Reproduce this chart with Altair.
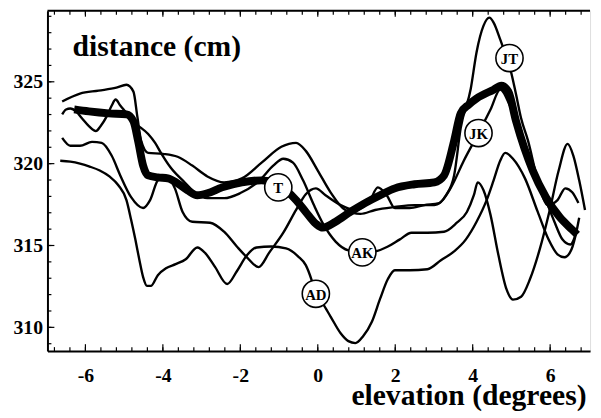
import altair as alt
import pandas as pd

# ---- data ----
JT_x = [-6.60,-6.14,-5.66,-5.20,-4.94,-4.76,-4.66,-4.56,-4.38,-4.00,-3.62,-3.24,-2.85,-2.42,-1.96,-1.45,-0.94,-0.56,-0.31,0.00,0.33,0.71,1.10,1.48,1.99,2.50,3.01,3.31,3.52,3.69,3.95,4.10,4.28,4.43,4.54,4.71,4.87,4.99,5.12,5.25,5.43,5.68,5.94,6.19,6.39,6.57,6.73]
JT_y = [323.80,324.28,324.46,324.64,324.82,324.40,322.89,321.39,320.66,320.60,320.42,319.88,319.22,318.86,319.10,320.06,321.03,321.27,320.78,319.58,318.25,317.17,316.93,317.17,317.35,317.47,317.47,318.07,319.28,322.17,324.58,326.81,328.43,328.92,328.62,327.59,326.51,325.60,324.22,322.77,321.39,318.98,317.47,317.77,318.49,318.25,317.59]

JK_x = [-6.60,-6.39,-6.14,-5.83,-5.58,-5.32,-5.10,-4.82,-4.51,-4.33,-4.13,-3.92,-3.69,-3.49,-3.24,-2.78,-2.42,-2.09,-1.83,-1.53,-1.25,-0.89,-0.56,-0.31,-0.05,0.20,0.59,0.97,1.35,1.55,1.78,1.99,2.37,2.75,3.13,3.44,3.77,4.15,4.46,4.71,4.97,5.30,5.61,5.89,6.11,6.32,6.52,6.68]
JK_y = [321.57,321.09,321.09,321.33,321.27,320.48,319.28,317.95,317.29,317.77,318.98,319.22,318.49,317.05,316.45,316.39,315.84,314.94,314.28,313.68,314.58,315.78,317.17,318.13,318.49,318.07,317.47,317.17,317.77,318.55,318.07,317.29,317.29,317.47,317.59,318.55,320.18,321.87,323.31,324.52,323.49,321.39,319.46,317.77,316.45,315.36,315.06,315.84]

AK_x = [-6.60,-6.50,-6.39,-6.24,-6.09,-5.91,-5.73,-5.61,-5.45,-5.32,-5.22,-5.10,-4.97,-4.71,-4.38,-4.20,-4.05,-3.80,-3.44,-3.18,-2.85,-2.42,-2.01,-1.50,-1.15,-0.89,-0.64,-0.38,-0.10,0.15,0.46,0.79,1.15,1.48,1.81,2.11,2.42,2.83,3.26,3.59,3.85,4.03,4.13,4.28,4.46,4.66,4.87,5.04,5.25,5.48,5.73,5.99,6.22,6.45,6.60,6.75,6.90]
AK_y = [323.01,323.31,323.37,323.19,322.77,322.29,321.99,322.29,322.89,323.55,323.92,323.55,323.19,322.47,321.81,321.27,320.66,319.76,318.86,318.25,317.89,317.89,318.19,318.98,319.88,320.30,320.06,318.98,317.47,316.27,315.24,314.70,314.58,314.64,314.94,315.36,315.78,315.78,315.84,316.39,317.05,318.07,318.86,318.37,316.87,314.46,312.35,311.69,311.87,312.95,314.76,317.17,319.58,321.21,320.48,318.98,317.17]

AD_x = [-6.65,-6.39,-6.14,-5.89,-5.63,-5.38,-5.15,-4.94,-4.82,-4.71,-4.61,-4.51,-4.41,-4.31,-4.13,-3.92,-3.67,-3.41,-3.11,-2.90,-2.65,-2.34,-2.09,-1.83,-1.58,-1.20,-0.82,-0.51,-0.31,-0.15,-0.05,0.13,0.33,0.59,0.79,0.97,1.17,1.40,1.61,1.81,1.99,2.37,2.83,3.18,3.52,3.82,4.10,4.36,4.54,4.71,4.84,5.04,5.35,5.68,5.96,6.19,6.37,6.55,6.70,6.75]
AD_y = [320.18,320.12,320.00,319.82,319.58,319.22,318.68,317.77,316.57,315.36,314.16,313.07,312.53,312.53,313.19,313.61,313.86,314.16,314.88,314.52,313.68,312.65,313.43,314.40,314.88,314.94,314.82,314.34,313.80,312.83,312.05,311.45,310.66,309.64,309.16,309.04,309.46,310.36,311.75,312.95,313.49,313.49,313.55,314.10,314.64,315.36,316.45,317.77,318.98,320.18,320.66,320.30,319.10,317.05,315.36,314.46,314.28,314.76,316.09,316.69]

T_x = [-6.29,-5.91,-5.40,-4.94,-4.76,-4.64,-4.51,-4.38,-4.13,-3.87,-3.62,-3.36,-3.11,-2.85,-2.47,-1.96,-1.45,-1.07,-0.82,-0.56,-0.31,-0.05,0.13,0.46,0.84,1.22,1.61,1.99,2.50,3.01,3.26,3.52,3.69,3.90,4.10,4.54,4.74,4.92,5.12,5.55,5.89,6.24,6.57,6.70]
T_y = [323.31,323.19,323.07,323.01,322.59,321.39,319.88,319.28,319.16,319.10,318.80,318.37,318.07,318.19,318.55,318.86,318.98,318.80,318.37,317.77,317.05,316.33,316.09,316.45,317.05,317.59,318.07,318.49,318.74,318.86,319.28,321.39,323.07,323.61,323.98,324.52,324.76,324.40,322.59,319.58,317.95,316.75,315.96,315.66]

label_names = ["JT", "JK", "T", "AK", "AD"]
label_x = [4.95, 4.15, -1.02, 1.15, -0.05]
label_y = [326.45, 321.87, 318.55, 314.58, 312.05]

x_tick_labels = [-6, -4, -2, 0, 2, 4, 6]
y_tick_labels = [310, 315, 320, 325]
x_minor = [round(-6.8 + 0.4 * i, 2) for i in range(35)]
y_minor = list(range(309, 330))

# ---- build tables ----
rows = []
for name, xs, ys in [("JT", JT_x, JT_y), ("JK", JK_x, JK_y), ("AK", AK_x, AK_y), ("AD", AD_x, AD_y)]:
    for i, (a, b) in enumerate(zip(xs, ys)):
        rows.append({"series": name, "x": a, "y": b, "i": i})
thin = pd.DataFrame(rows)
thick = pd.DataFrame({"x": T_x, "y": T_y, "i": list(range(len(T_x)))})
labels = pd.DataFrame({"name": label_names, "x": label_x, "y": label_y})
xt_major = pd.DataFrame({"x": [v for v in x_minor if abs(v - round(v)) < 1e-6 and round(v) % 2 == 0]})
xt_minor = pd.DataFrame({"x": x_minor})
yt_major = pd.DataFrame({"y": y_tick_labels})
yt_minor = pd.DataFrame({"y": y_minor})

W, H = 550, 345
SERIF = "Liberation Serif"

xsc = alt.Scale(domain=[-6.98, 7.03], nice=False, zero=False)
ysc = alt.Scale(domain=[308.55, 329.34], nice=False, zero=False)

X = alt.X("x:Q", scale=xsc, axis=alt.Axis(
    values=x_tick_labels, ticks=False, grid=False, domainColor="black", domainWidth=2,
    labelFont=SERIF, labelFontSize=20, labelFontWeight="bold", labelColor="black", labelPadding=15,
    labelExpr="datum.value < 0 ? '-' + abs(datum.value) : '' + datum.value",
    title="elevation (degrees)", titleFont=SERIF, titleFontSize=30, titleFontWeight="bold",
    titleColor="black", titleAlign="right", titleBaseline="alphabetic", titleX=546, titleY=54))
Y = alt.Y("y:Q", scale=ysc, axis=alt.Axis(
    values=y_tick_labels, ticks=False, grid=False, domainColor="black", domainWidth=2,
    labelFont=SERIF, labelFontSize=20, labelFontWeight="bold", labelColor="black", labelPadding=5,
    title="distance (cm)", titleFont=SERIF, titleFontSize=30, titleFontWeight="bold",
    titleColor="black", titleAngle=0, titleAlign="left", titleBaseline="alphabetic",
    titleX=25, titleY=45))

lines = alt.Chart(thin).mark_line(interpolate="monotone", color="black", strokeWidth=2.4).encode(
    x=X, y=Y, detail="series:N", order="i:Q")
thick_line = alt.Chart(thick).mark_line(interpolate="monotone", color="black", strokeWidth=8).encode(
    x=X, y=Y, order="i:Q")

def xticks(df, y0, y1):
    return alt.Chart(df).mark_rule(color="black", strokeWidth=1.2).encode(
        x=X, y=alt.value(y0), y2=alt.value(y1))

def yticks(df, length):
    return alt.Chart(df).mark_rule(color="black", strokeWidth=1.2).encode(
        y=Y, x=alt.value(0), x2=alt.value(length))

top_line = alt.Chart(pd.DataFrame({"a": [0]})).mark_rule(color="black", strokeWidth=2).encode(
    x=alt.value(0), x2=alt.value(W), y=alt.value(0))

circles = alt.Chart(labels).mark_point(shape="circle", size=760, filled=True, fill="white",
                                        stroke="black", strokeWidth=1.6, opacity=1).encode(x=X, y=Y)
texts = alt.Chart(labels).mark_text(font=SERIF, fontWeight="bold", fontSize=15, color="black",
                                    align="center", baseline="middle", dy=1).encode(x=X, y=Y, text="name:N")

chart = alt.layer(
    lines, thick_line,
    xticks(xt_minor, H, H - 4), xticks(xt_major, H, H - 7),
    xticks(xt_minor, 0, 4), xticks(xt_major, 0, 6),
    yticks(yt_minor, 4), yticks(yt_major, 7),
    top_line, circles, texts,
).properties(
    width=W, height=H,
    autosize=alt.AutoSizeParams(type="none"),
    padding={"left": 40, "top": 0, "right": 3, "bottom": 62},
).configure_view(stroke=None).configure(background="white")

chart.save("out.html", embed_options={"renderer": "svg", "actions": False})
